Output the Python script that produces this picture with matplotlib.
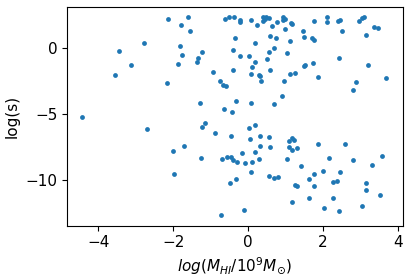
import numpy as np
import matplotlib
matplotlib.use("Agg")
import matplotlib.pyplot as plt

# log(M_HI / 1e9 Msun) vs log(s)
log_mhi = [
    -2.13, -2.77, -3.44, -3.12, -3.55, -1.87, -2.16, -4.43,
    -1.60, -1.79, -1.55, -1.81, -1.76, -1.23, -1.33, -1.36, -0.93, -0.75,
    -0.67, -0.59, -1.28, -0.64, -0.43, -0.32, 0.08, 0.69, 0.91, 0.96, 1.12,
    -0.61, -0.51, -0.37, -0.21, -0.21, 0.08, 0.24, 0.40, 0.48, 0.56, 0.40,
    0.44, 0.64, 0.77, 0.93, 0.99, 0.93, 0.99, 0.59, 0.75, -0.35, 0.19,
    -0.40, 0.69, 0.56, 1.04, -0.21, 0.03, 0.51, 0.19, 0.11, -0.40, 0.59,
    0.08, 0.29, 0.32, 0.35,
    2.11, 2.11, 1.76, 1.15, 1.17, 2.40, 2.45, 2.96, 3.04, 3.09, 3.36, 3.47,
    1.47, 1.49, 1.71, 1.76, 2.51, 3.15, 1.12, 2.43, 1.73, 1.49, 1.52, 3.20,
    1.25, 1.87, 2.88, 2.80, 3.68,
    -2.69, -2.00, -1.97,
    -1.15, -1.23, -0.88, -1.71, -1.25, -0.69, -0.56, -0.45, -0.40, -0.29,
    -0.16, -0.08, 0.11, 0.08, 0.29, 0.19, -0.45, 0.03, 0.19, 0.05, 0.32,
    0.32, 0.56, 0.59, -0.49, -0.32, 0.56, 0.69, 0.80, -0.72, -0.11,
    1.17, 1.23, 1.09, 1.09, 1.17, 1.31, 1.04, 1.87, 2.59, 1.41, 2.16, 2.80,
    3.57, 3.31, 2.00, 2.45, 1.76, 1.63, 2.27, 2.37, 1.25, 1.31, 1.76, 3.15,
    3.15, 3.52, 1.63, 2.27, 1.17, 2.03, 2.43, 3.04,
]
log_s = [
    2.20, 0.38, -0.23, -1.29, -2.05, -1.21, -2.65, -5.23,
    2.35, 1.74, 1.29, 0.15, -0.53, -0.30, -0.76, -1.06, -1.82, -2.50,
    -2.80, -2.88, -4.17, -4.62, -4.85, -4.02, -4.17, -4.24, -3.64, -2.50, -1.97,
    2.20, 2.35, 2.35, 2.12, 1.97, 2.12, 1.74, 2.35, 2.35, 2.27, 2.05,
    2.20, 1.67, 1.97, 2.35, 2.20, 2.12, 1.44, 0.91, 0.76, 0.76, 0.38,
    -0.15, 0.00, -0.30, -0.38, -0.61, -0.61, -0.83, -1.06, -1.44, -1.67, -1.67,
    -1.97, -2.05, -2.12, -2.50,
    2.35, 1.97, 2.05, 1.89, 1.82, 2.05, 2.12, 2.05, 2.27, 2.35, 1.59, 1.52,
    1.29, 0.83, 0.76, 0.61, 1.29, 0.98, 0.53, -0.76, -1.14, -1.36, -1.29, -1.29,
    -1.89, -2.20, -2.58, -3.18, -2.27,
    -6.14, -7.80, -9.55,
    -5.68, -5.98, -6.44, -7.42, -8.33, -8.41, -8.26, -8.26, -8.48, -8.64,
    -7.95, -8.71, -8.64, -9.39, -8.41, -7.88, -6.67, -6.06, -5.83, -6.89, -6.67,
    -7.42, -6.74, -7.50, -10.23, -9.92, -9.70, -9.85, -9.77, -12.65, -12.27,
    -6.82, -6.97, -7.05, -7.50, -7.73, -7.58, -8.41, -7.27, -7.27, -8.94, -8.33, -8.48,
    -8.18, -8.86, -9.32, -9.39, -9.55, -9.92, -10.15, -10.08, -10.38, -10.45, -10.45, -10.23,
    -10.76, -11.14, -11.36, -11.36, -11.67, -12.12, -12.35, -11.97,
]

x_ticks = [-4, -2, 0, 2, 4]
y_ticks = [0, -5, -10]

fig = plt.figure(figsize=(4.10, 2.79), dpi=100)
ax = fig.add_axes([0.164, 0.191, 0.818, 0.783])

ax.scatter(log_mhi, log_s, s=12, color="#1f77b4", linewidths=0)

ax.set_xlim(-4.83, 4.12)
ax.set_ylim(-13.44, 3.1)
ax.set_xticks(x_ticks)
ax.set_yticks(y_ticks)
ax.tick_params(labelsize=11, length=3.5, width=0.8)
ax.set_xlabel(r"$log(M_{HI}/10^9M_{\odot})$", fontsize=11)
ax.set_ylabel("log(s)", fontsize=11)

fig.savefig("out.png", dpi=100)
